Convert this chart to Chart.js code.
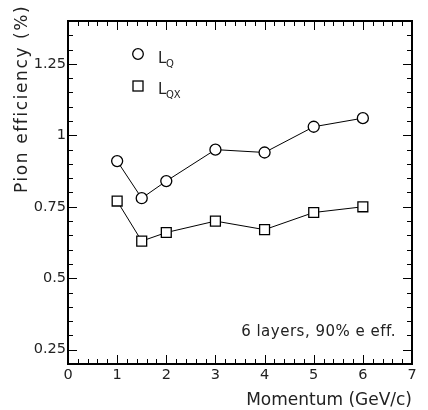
<!DOCTYPE html>
<html>
<head>
<meta charset="utf-8">
<script src="https://cdn.jsdelivr.net/npm/chart.js@4/dist/chart.umd.min.js"></script>
<style>
  body { margin: 0; background: #fff; }
</style>
</head>
<body>
<canvas id="effCanvas" width="428" height="410"></canvas>
<script>
const momentum = [1, 1.5, 2, 3, 4, 5, 6];
const effLQ = [0.91, 0.78, 0.84, 0.95, 0.94, 1.03, 1.06];
const effLQX = [0.77, 0.63, 0.66, 0.70, 0.67, 0.73, 0.75];
const xTicks = [0, 1, 2, 3, 4, 5, 6, 7];
const yTicks = [0.25, 0.5, 0.75, 1, 1.25];

const FONT = "'DejaVu Sans', sans-serif";
const TXT = '#222';

// inward ticks on all four sides + frame, titles, legend and note
const frameTicks = {
    id: 'frameTicks',
    afterDraw(chart) {
        const { ctx, chartArea: a, scales: { x, y } } = chart;
        ctx.save();
        ctx.strokeStyle = '#000';
        ctx.lineWidth = 1;
        ctx.beginPath();
        for (let i = 0; i <= 35; i++) {
            const px = Math.round(x.getPixelForValue(i * 0.2)) + 0.5;
            const len = i % 5 === 0 ? 9 : 5;
            ctx.moveTo(px, a.bottom); ctx.lineTo(px, a.bottom - len);
            ctx.moveTo(px, a.top); ctx.lineTo(px, a.top + len);
        }
        for (let i = 0; i <= 24; i++) {
            const v = 0.2 + i * 0.05;
            const py = Math.round(y.getPixelForValue(v)) + 0.5;
            const q = v / 0.25;
            const len = Math.abs(q - Math.round(q)) < 1e-6 ? 9 : 5;
            ctx.moveTo(a.left, py); ctx.lineTo(a.left + len, py);
            ctx.moveTo(a.right, py); ctx.lineTo(a.right - len, py);
        }
        ctx.stroke();
        ctx.lineWidth = 2;
        ctx.strokeRect(a.left, a.top, a.right - a.left, a.bottom - a.top);

        // axis titles
        ctx.fillStyle = TXT;
        ctx.font = '17px ' + FONT;
        ctx.textAlign = 'right';
        ctx.textBaseline = 'alphabetic';
        ctx.fillText('Momentum (GeV/c)', a.right, 405);
        ctx.save();
        ctx.translate(27, 193);
        ctx.rotate(-Math.PI / 2);
        ctx.textAlign = 'left';
        ctx.letterSpacing = '1.6px';
        ctx.fillText('Pion efficiency (%)', 0, 0);
        ctx.restore();

        // note
        ctx.font = '15px ' + FONT;
        ctx.textAlign = 'right';
        ctx.letterSpacing = '0.5px';
        ctx.fillText('6 layers, 90% e eff.', 396, 336);
        ctx.letterSpacing = '0px';

        // legend
        ctx.lineWidth = 1.3;
        ctx.strokeStyle = '#000';
        ctx.fillStyle = '#fff';
        ctx.beginPath();
        ctx.arc(138, 54, 5.3, 0, Math.PI * 2);
        ctx.fill(); ctx.stroke();
        ctx.fillRect(133, 81, 10, 10);
        ctx.strokeRect(133, 81, 10, 10);
        ctx.fillStyle = TXT;
        ctx.textAlign = 'left';
        ctx.font = '15px ' + FONT;
        ctx.fillText('L', 158, 63);
        ctx.fillText('L', 158, 94);
        ctx.font = '10px ' + FONT;
        ctx.fillText('Q', 166, 67);
        ctx.fillText('QX', 166, 98);
        ctx.restore();
    }
};

new Chart(document.getElementById('effCanvas'), {
    type: 'scatter',
    data: {
        datasets: [{
            label: 'LQ',
            data: momentum.map((m, i) => ({ x: m, y: effLQ[i] })),
            showLine: true,
            borderColor: '#000',
            borderWidth: 1,
            pointStyle: 'circle',
            pointRadius: 5.5,
            pointBorderWidth: 1.3,
            pointBorderColor: '#000',
            pointBackgroundColor: '#fff'
        }, {
            label: 'LQX',
            data: momentum.map((m, i) => ({ x: m, y: effLQX[i] })),
            showLine: true,
            borderColor: '#000',
            borderWidth: 1,
            pointStyle: 'rect',
            pointRadius: 7,
            pointBorderWidth: 1.3,
            pointBorderColor: '#000',
            pointBackgroundColor: '#fff'
        }]
    },
    options: {
        responsive: false,
        animation: false,
        layout: { padding: { left: 0, right: 16, top: 21, bottom: 0 } },
        plugins: {
            legend: { display: false },
            tooltip: { enabled: false }
        },
        scales: {
            x: {
                type: 'linear',
                min: 0,
                max: 7,
                grid: { display: false, drawTicks: false },
                border: { display: false },
                afterBuildTicks: s => { s.ticks = xTicks.map(v => ({ value: v })); },
                afterFit: s => { s.height = 46; },
                ticks: {
                    padding: 3,
                    color: TXT,
                    font: { family: FONT, size: 14.5 },
                    callback: v => String(v)
                }
            },
            y: {
                type: 'linear',
                min: 0.2,
                max: 1.4,
                grid: { display: false, drawTicks: false },
                border: { display: false },
                afterBuildTicks: s => { s.ticks = yTicks.map(v => ({ value: v })); },
                afterFit: s => { s.width = 68; },
                ticks: {
                    padding: 2,
                    color: TXT,
                    font: { family: FONT, size: 14.5 },
                    callback: v => String(Math.round(v * 100) / 100)
                }
            }
        }
    },
    plugins: [frameTicks]
});
</script>
</body>
</html>
